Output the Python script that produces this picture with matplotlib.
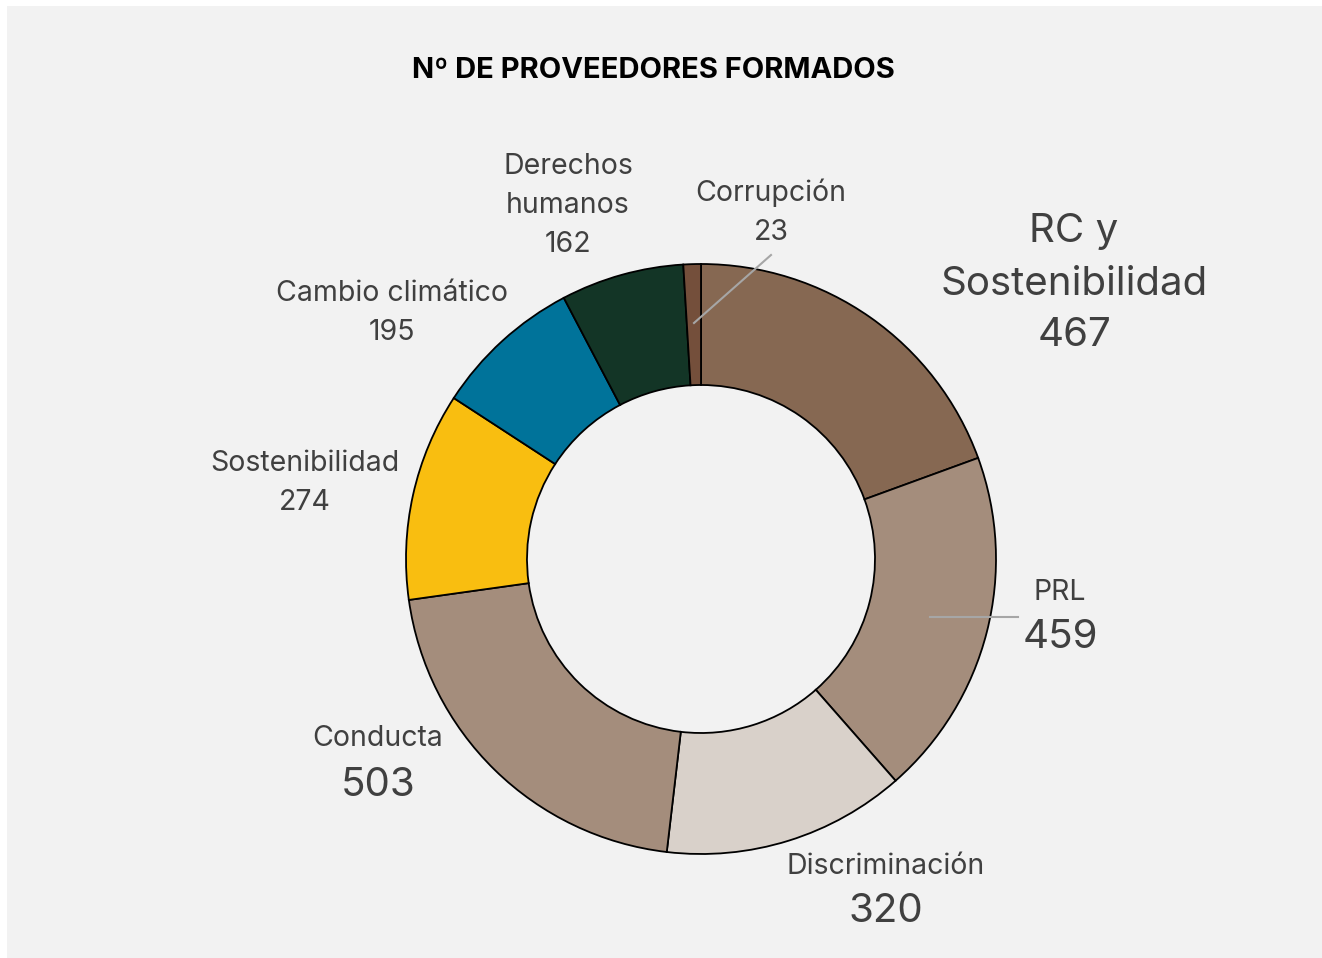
import matplotlib
matplotlib.use('Agg')
import matplotlib.pyplot as plt
from matplotlib.patches import Rectangle
#
plt.rcParams['font.family'] = ['Inter', 'DejaVu Sans']
#
categories = ['RC y\nSostenibilidad', 'PRL', 'Discriminación', 'Conducta',
			  'Sostenibilidad', 'Cambio climático', 'Derechos\nhumanos', 'Corrupción']
values = [467, 459, 320, 503, 274, 195, 162, 23]
colors = ['#866852', '#A48D7C', '#D9D1CA', '#A48D7C',
		  '#F9BE10', '#00739A', '#133526', '#744F3B']
#
W, H = 1322, 958
# label layout: x, y of each text line (pixels from top), size of name, size of value
label_layout = [
	(1074, [231, 284, 335], 29, 29),
	(1060, [592, 637], 20.5, 29),
	(886, [866, 911], 20.5, 29),
	(378, [739, 785], 20.5, 29),
	(305, [463, 502], 20.5, 20.5),
	(392, [293, 332], 20.5, 20.5),
	(568, [166, 205, 244], 20.5, 20.5),
	(771, [193, 232], 20.5, 20.5),
]
#
fig = plt.figure(figsize=(W/100, H/100), dpi=100)
fig.patch.set_facecolor('white')
ax = fig.add_axes([0, 0, 1, 1])
ax.add_patch(Rectangle((7, 0), W-7, H-6, facecolor='#F2F2F2', edgecolor='none', zorder=0))
#
cx, cy = 701, H-559
ax.pie(values, colors=colors, startangle=90, counterclock=False,
	   center=(cx, cy), radius=295,
	   wedgeprops=dict(width=121, edgecolor='black', linewidth=1.3))
ax.set_xlim(0, W)
ax.set_ylim(0, H)
ax.set_aspect('equal')
ax.axis('off')
#
ax.text(653, H-70, 'Nº DE PROVEEDORES FORMADOS', ha='center', va='center',
		fontsize=21, fontweight='bold', color='black')
#
txt = '#404040'
for name, val, (x, ys, fs_name, fs_val) in zip(categories, values, label_layout):
	lines = name.split('\n')
	for line, y in zip(lines, ys[:-1]):
		ax.text(x, H-y, line, ha='center', va='center', fontsize=fs_name, color=txt)
	ax.text(x, H-ys[-1], str(val), ha='center', va='center', fontsize=fs_val, color=txt)
#
# leader lines
ax.plot([930, 1018], [H-617, H-617], color='#A6A6A6', lw=1.5)
ax.plot([771, 694], [H-255, H-323], color='#A6A6A6', lw=1.5)
#
fig.savefig('out.png', dpi=100, facecolor=fig.get_facecolor())
